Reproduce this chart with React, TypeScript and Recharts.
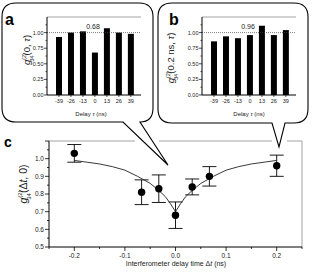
import React from "react";
import {
  BarChart,
  Bar,
  XAxis,
  YAxis,
  ReferenceLine,
  ComposedChart,
  Scatter,
  ErrorBar,
} from "recharts";

// inset a / b: correlation vs delay tau
const insetTau = [-39, -26, -13, 0, 13, 26, 39];
const insetAValues = [0.93, 1.0, 1.02, 0.68, 1.07, 1.0, 0.98];
const insetBValues = [0.86, 0.94, 0.91, 0.96, 1.11, 0.96, 1.04];
const insetYTicks = [0, 0.125, 0.25, 0.375, 0.5, 0.625, 0.75, 0.875, 1.0, 1.125];

// panel c: measured points with error bars
const mainDelay = [-0.2, -0.067, -0.033, 0, 0.033, 0.067, 0.2];
const mainG2 = [1.03, 0.81, 0.83, 0.68, 0.84, 0.9, 0.96];
const mainErr = [0.05, 0.07, 0.078, 0.075, 0.045, 0.055, 0.06];

// fitted curve
const fitDelay = [
  -0.2, -0.175, -0.15, -0.125, -0.1, -0.075, -0.05, -0.033, -0.02, -0.01, 0,
  0.01, 0.02, 0.033, 0.05, 0.075, 0.1, 0.125, 0.15, 0.175, 0.2,
];
const fitG2 = [
  0.99, 0.98, 0.97, 0.955, 0.935, 0.9, 0.86, 0.82, 0.785, 0.745, 0.7,
  0.745, 0.785, 0.82, 0.86, 0.9, 0.935, 0.955, 0.97, 0.98, 0.99,
];

const mainXTicks = [-0.25, -0.2, -0.15, -0.1, -0.05, 0, 0.05, 0.1, 0.15, 0.2, 0.25];
const mainYTicks = [0.5, 0.55, 0.6, 0.65, 0.7, 0.75, 0.8, 0.85, 0.9, 0.95, 1.0, 1.05, 1.1];

const FONT = "'Liberation Sans', Arial, sans-serif";
const GREY = "#8a8a8a";

const insetA = insetTau.map((t, i) => ({ tau: t, g: insetAValues[i] }));
const insetB = insetTau.map((t, i) => ({ tau: t, g: insetBValues[i] }));
const points = mainDelay.map((d, i) => ({ x: d, y: mainG2[i], err: mainErr[i] }));
const fit = fitDelay.map((d, i) => ({ x: d, y: fitG2[i] }));

const isMult = (v: number, step: number) =>
  Math.abs(v / step - Math.round(v / step)) < 1e-6;

function InsetYTick({ x, y, payload }: any) {
  const v = payload.value;
  const major = isMult(v, 0.25);
  return (
    <g>
      <line x1={x} x2={x - (major ? 3 : 1.5)} y1={y} y2={y} stroke="#000" strokeWidth={0.7} />
      {major && (
        <text x={x - 3.5} y={y} dy={2} textAnchor="end" fontSize={5.5} fontFamily={FONT} fill="#222">
          {v.toFixed(2)}
        </text>
      )}
    </g>
  );
}

function InsetXTick({ x, y, payload }: any) {
  return (
    <g>
      <line x1={x} x2={x} y1={y} y2={y + 2} stroke="#000" strokeWidth={0.7} />
      <text x={x} y={y + 8} textAnchor="middle" fontSize={5.5} fontFamily={FONT} fill="#222">
        {payload.value}
      </text>
    </g>
  );
}

function MainYTick({ x, y, payload }: any) {
  const v = payload.value;
  const major = isMult(v, 0.1);
  return (
    <g>
      <line x1={x} x2={x - (major ? 4 : 2)} y1={y} y2={y} stroke="#000" strokeWidth={0.8} />
      {major && v < 1.05 && (
        <text x={x - 5} y={y} dy={2.3} textAnchor="end" fontSize={6.5} fontFamily={FONT} fill="#222">
          {v.toFixed(1)}
        </text>
      )}
    </g>
  );
}

function MainXTick({ x, y, payload }: any) {
  const v = payload.value;
  const major = isMult(v, 0.1);
  return (
    <g>
      <line x1={x} x2={x} y1={y} y2={y + (major ? 4 : 2)} stroke="#000" strokeWidth={0.8} />
      {major && (
        <text x={x} y={y + 11} textAnchor="middle" fontSize={6.5} fontFamily={FONT} fill="#222">
          {v.toFixed(1)}
        </text>
      )}
    </g>
  );
}

function Inset({ data }: { data: { tau: number; g: number }[] }) {
  return (
    <BarChart width={160} height={125} data={data} margin={{ top: 17, right: 19, bottom: 0, left: 0 }}>
      <XAxis
        dataKey="tau"
        type="number"
        domain={[-52, 50]}
        ticks={insetTau}
        interval={0}
        tickSize={0}
        tickMargin={0}
        tickLine={false}
        tick={<InsetXTick />}
        height={30}
        stroke="#000"
      />
      <YAxis
        type="number"
        domain={[0, 1.25]}
        ticks={insetYTicks}
        interval={0}
        tickSize={0}
        tickMargin={0}
        tickLine={false}
        tick={<InsetYTick />}
        width={47}
        stroke="#000"
      />
      <ReferenceLine y={1.25} stroke={GREY} strokeWidth={0.8} />
      <ReferenceLine y={1} stroke="#444" strokeWidth={0.7} strokeDasharray="1 1" />
      <Bar dataKey="g" fill="#000" barSize={6} isAnimationActive={false} />
    </BarChart>
  );
}

export default function App() {
  return (
    <div style={{ position: "absolute", left: 0, top: 0, width: 312, height: 275, background: "#fff" }}>
      <div style={{ position: "absolute", left: 0, top: 0 }}>
        <Inset data={insetA} />
      </div>
      <div style={{ position: "absolute", left: 155, top: 0 }}>
        <Inset data={insetB} />
      </div>
      <div style={{ position: "absolute", left: 0, top: 125 }}>
        <ComposedChart width={312} height={150} margin={{ top: 16, right: 10, bottom: 0, left: 0 }}>
          <XAxis
            dataKey="x"
            type="number"
            domain={[-0.25, 0.25]}
            ticks={mainXTicks}
            interval={0}
            tickSize={0}
            tickMargin={0}
            tickLine={false}
            tick={<MainXTick />}
            height={28}
            stroke="#000"
          />
          <YAxis
            dataKey="y"
            type="number"
            domain={[0.5, 1.1]}
            ticks={mainYTicks}
            interval={0}
            tickSize={0}
            tickMargin={0}
            tickLine={false}
            tick={<MainYTick />}
            width={49}
            stroke="#000"
          />
          <ReferenceLine x={0.25} stroke={GREY} strokeWidth={0.8} />
          <Scatter
            data={fit}
            line={{ stroke: "#222", strokeWidth: 0.9 }}
            shape={() => <g />}
            isAnimationActive={false}
          />
          <Scatter
            data={points}
            fill="#000"
            shape={(p: any) => <circle cx={p.cx} cy={p.cy} r={3.7} fill="#000" />}
            isAnimationActive={false}
          >
            <ErrorBar dataKey="err" direction="y" width={7} stroke="#000" strokeWidth={0.9} isAnimationActive={false} />
          </Scatter>
        </ComposedChart>
      </div>
      <svg
        width={312}
        height={275}
        style={{ position: "absolute", left: 0, top: 0, pointerEvents: "none" }}
        fontFamily={FONT}
      >
        {/* speech bubbles */}
        <path
          d="M16,3 H139 Q153,3 153,17 V108 Q153,122 140,122 L168,165 L123,122 H16 Q2,122 2,108 V17 Q2,3 16,3 Z"
          fill="none"
          stroke="#000"
          strokeWidth={1.1}
        />
        <path
          d="M172,3 H294 Q308,3 308,17 V109 Q308,123 294,123 H285 L279,147 L272,123 H172 Q158,123 158,109 V17 Q158,3 172,3 Z"
          fill="none"
          stroke="#000"
          strokeWidth={1.1}
        />
        {/* top frame of panel c, broken by the bubble tails */}
        <line x1={49} x2={135} y1={141} y2={141} stroke={GREY} strokeWidth={0.8} />
        <line x1={159} x2={272} y1={141} y2={141} stroke={GREY} strokeWidth={0.8} />
        <line x1={287} x2={302} y1={141} y2={141} stroke={GREY} strokeWidth={0.8} />

        {/* panel letters */}
        <text x={5} y={25} fontSize={16} fontWeight="bold">a</text>
        <text x={169} y={25} fontSize={16} fontWeight="bold">b</text>
        <text x={4} y={147} fontSize={14} fontWeight="bold">c</text>

        {/* value labels */}
        <text x={93} y={29} fontSize={7} textAnchor="middle" fill="#222">0.68</text>
        <text x={248} y={29} fontSize={7} textAnchor="middle" fill="#222">0.96</text>

        {/* inset x labels */}
        <text x={91} y={116} fontSize={6} textAnchor="middle" fill="#222">
          Delay <tspan fontStyle="italic">τ</tspan> (ns)
        </text>
        <text x={249} y={116} fontSize={6} textAnchor="middle" fill="#222">
          Delay <tspan fontStyle="italic">τ</tspan> (ns)
        </text>

        {/* inset y labels */}
        <text transform="translate(30,50) rotate(-90)" textAnchor="middle" fontSize={9.5} fill="#222">
          <tspan fontStyle="italic">g</tspan>
          <tspan fontSize={5.5} dy={-4.5}>(2)</tspan>
          <tspan fontSize={5.5} dx={-8.5} dy={8}>34</tspan>
          <tspan dy={-3.5}>(0, </tspan>
          <tspan fontStyle="italic">τ</tspan>
          <tspan>)</tspan>
        </text>
        <text transform="translate(174,58) rotate(-90)" textAnchor="middle" fontSize={9.5} fill="#222">
          <tspan fontStyle="italic">g</tspan>
          <tspan fontSize={5.5} dy={-4.5}>(2)</tspan>
          <tspan fontSize={5.5} dx={-8.5} dy={8}>34</tspan>
          <tspan dy={-3.5}>(0.2 ns, </tspan>
          <tspan fontStyle="italic">τ</tspan>
          <tspan>)</tspan>
        </text>

        {/* main axis labels */}
        <text transform="translate(27,184) rotate(-90)" textAnchor="middle" fontSize={10.5} fill="#222">
          <tspan fontStyle="italic">g</tspan>
          <tspan fontSize={6} dy={-5}>(2)</tspan>
          <tspan fontSize={6} dx={-9.5} dy={9}>34</tspan>
          <tspan dy={-4}>(Δ</tspan>
          <tspan fontStyle="italic">t</tspan>
          <tspan>, 0)</tspan>
        </text>
        <text x={176} y={266} fontSize={7} textAnchor="middle" fill="#222">
          Interferometer delay time Δ<tspan fontStyle="italic">t</tspan> (ns)
        </text>
      </svg>
    </div>
  );
}
